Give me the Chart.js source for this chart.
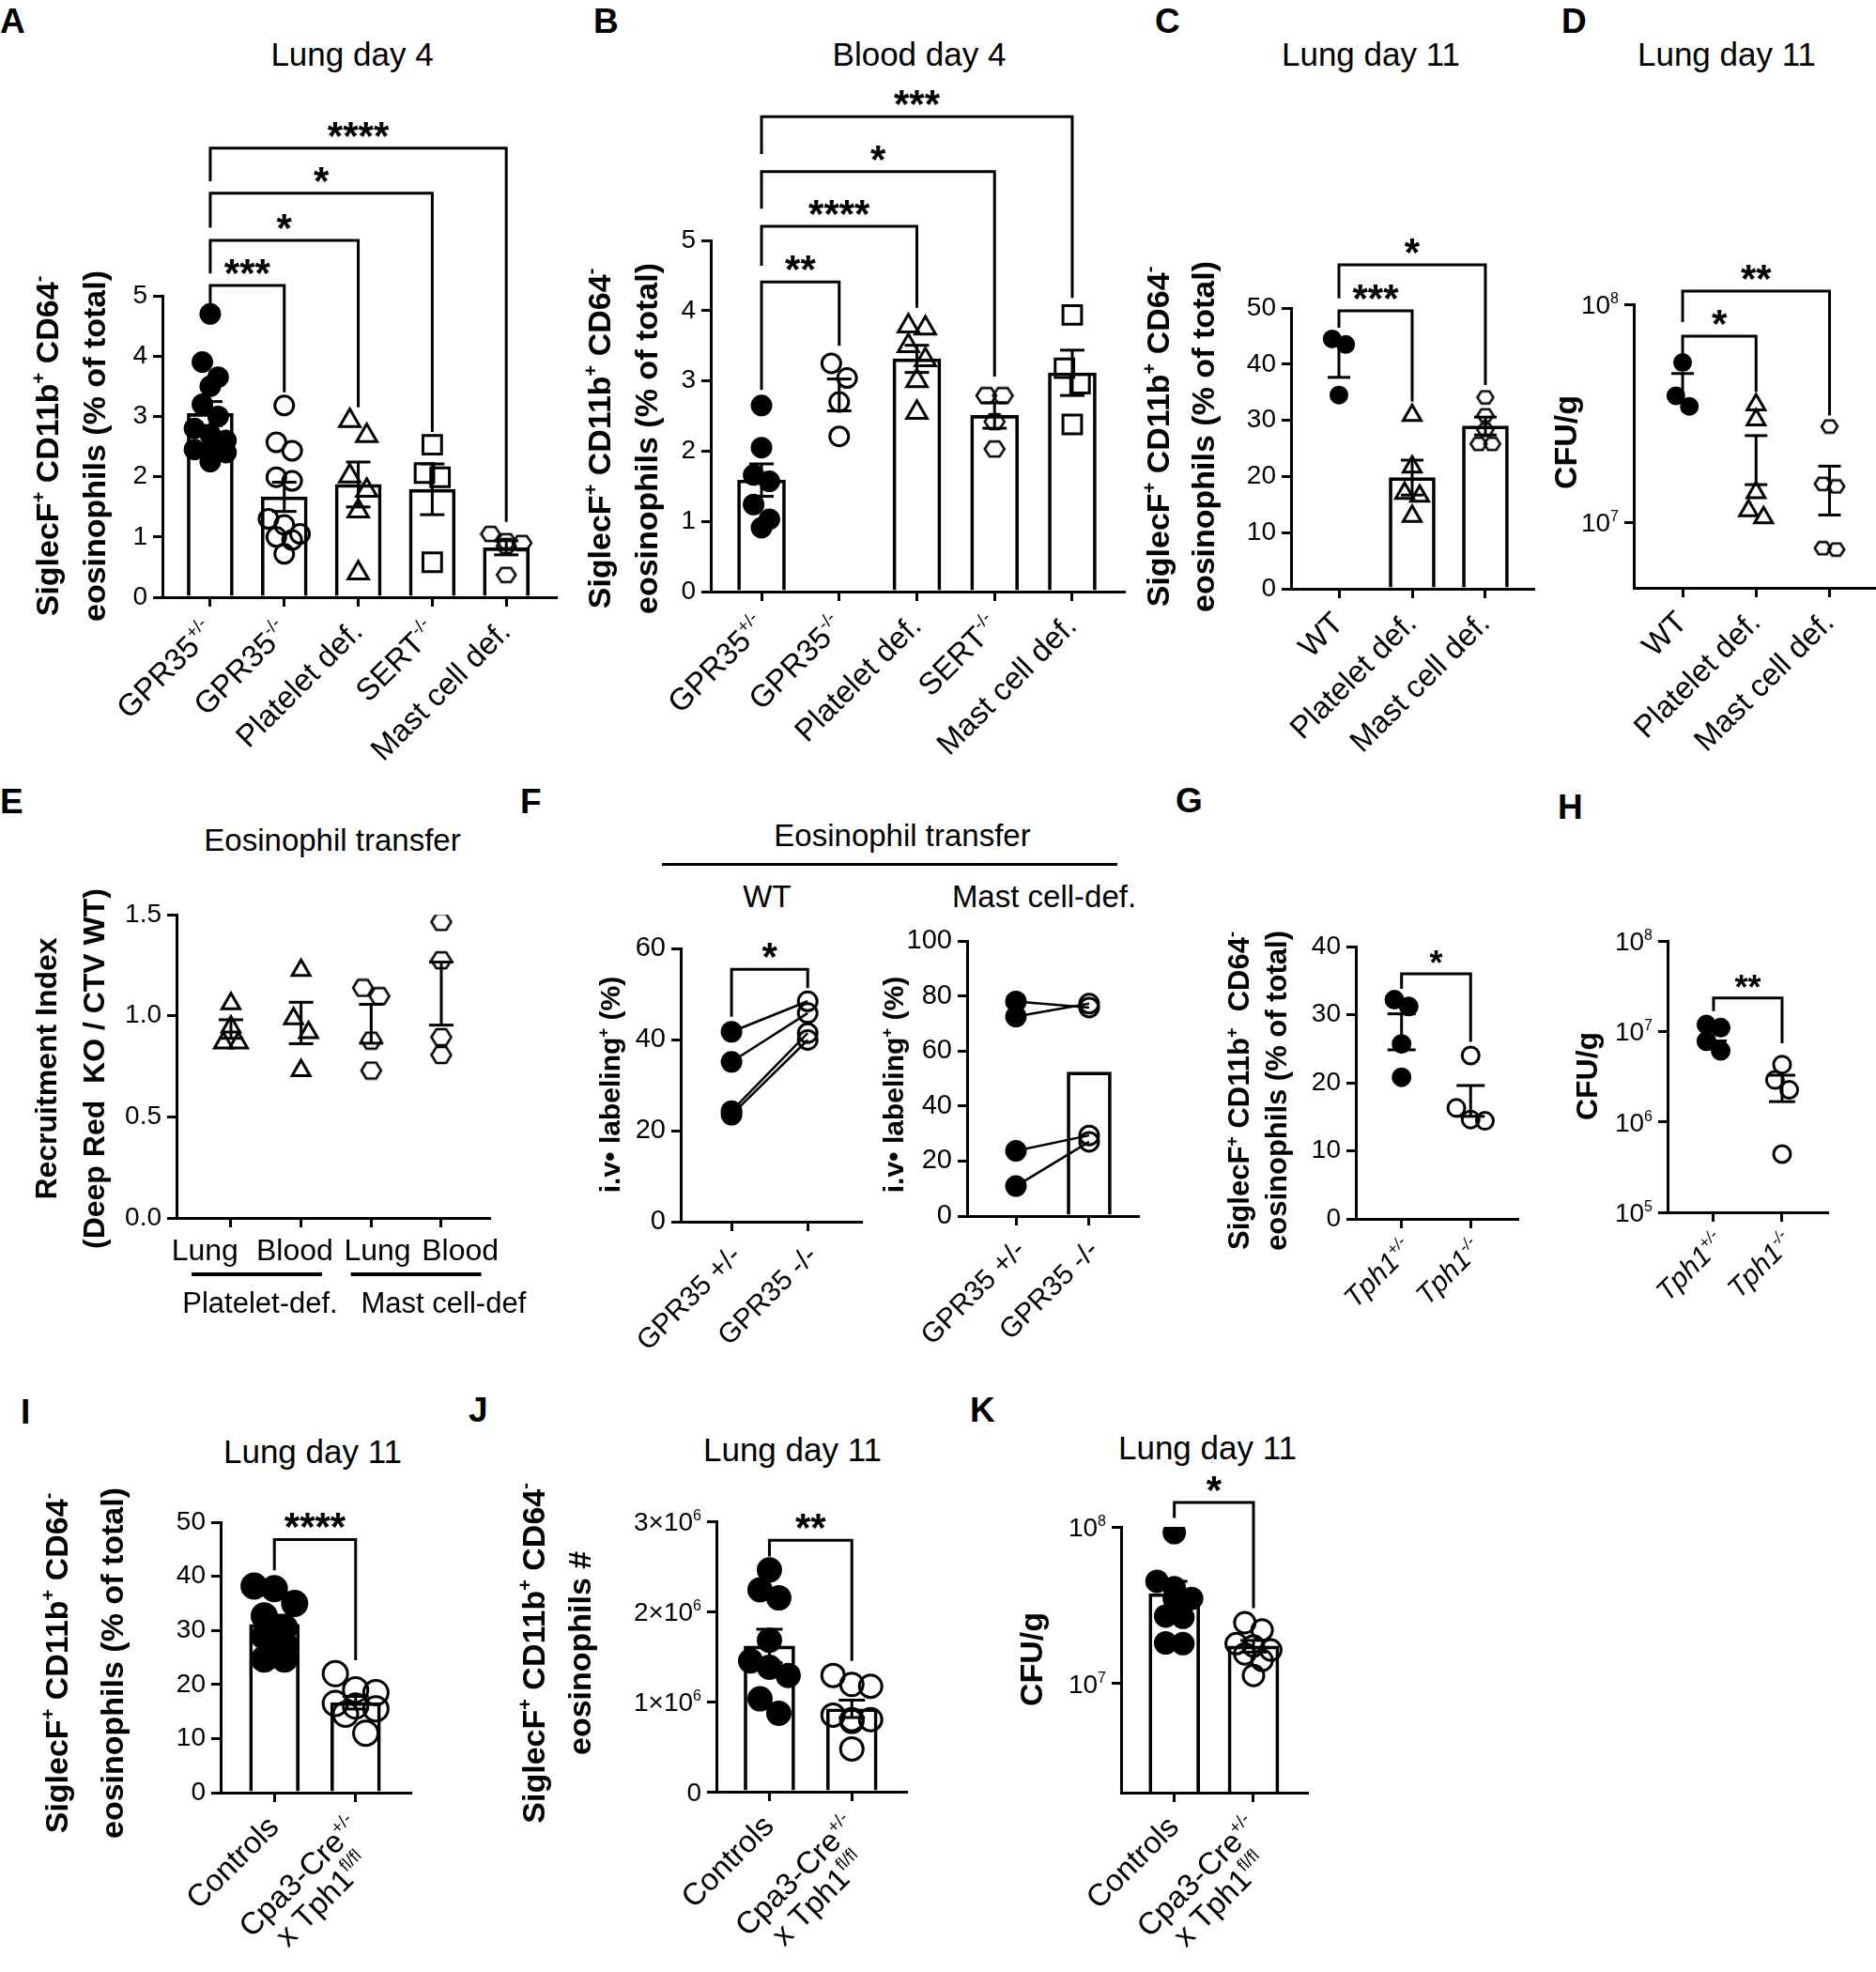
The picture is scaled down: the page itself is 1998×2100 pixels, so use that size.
<!DOCTYPE html>
<html>
<head>
<meta charset="utf-8">
<script src="https://cdn.jsdelivr.net/npm/chart.js@4.4.0/dist/chart.umd.min.js"></script>
<style>
  body { margin: 0; background: #fff; width: 1998px; height: 2100px; position: relative; overflow: hidden; }
  canvas { position: absolute; }
</style>
</head>
<body>
<script>
// ---- data ----
// A  lung day 4, % eosinophils
const aCats = ['GPR35^{+/-}', 'GPR35^{-/-}', 'Platelet def.', 'SERT^{-/-}', 'Mast cell def.'];
const aHet = [4.7, 3.9, 3.65, 3.5, 3.2, 3.0, 2.8, 2.7, 2.6, 2.45, 2.45, 2.4, 2.25];
const aKo = [3.18, 2.57, 2.43, 1.99, 1.93, 1.3, 1.2, 1.05, 1.0, 0.95, 0.72];
const aPlt = [2.93, 2.68, 2.01, 1.77, 1.43, 0.4];
const aSert = [2.53, 2.06, 1.99, 0.58];
const aMast = [1.05, 0.93, 0.9, 0.85, 0.37];
const aSig = [['***', 0, 1], ['*', 0, 2], ['*', 0, 3], ['****', 0, 4]];

// B  blood day 4
const bCats = aCats;
const bHet = [2.65, 2.05, 1.66, 1.57, 1.24, 1.03, 0.91];
const bKo = [3.25, 3.04, 2.7, 2.21];
const bPlt = [3.78, 3.75, 3.5, 3.3, 3.0, 2.55];
const bSert = [2.79, 2.79, 2.42, 2.03];
const bMast = [3.94, 3.18, 2.96, 2.38];
const bSig = [['**', 0, 1], ['****', 0, 2], ['*', 0, 3], ['***', 0, 4]];

// C  lung day 11
const cCats = ['WT', 'Platelet def.', 'Mast cell def.'];
const cWt = [44.5, 43.5, 34.5];
const cPlt = [30.9, 21.7, 17.0, 16.5, 12.9];
const cMast = [34.1, 30.9, 28.3, 25.8, 25.8];
const cSig = [['***', 0, 1], ['*', 0, 2]];

// D  CFU/g lung day 11
const dCats = cCats;
const dWt = [5.4e7, 3.8e7, 3.4e7];
const dPlt = [3.46e7, 2.95e7, 1.37e7, 1.13e7, 1.05e7];
const dMast = [2.75e7, 1.5e7, 1.46e7, 7.6e6, 7.5e6];
const dSig = [['*', 0, 1], ['**', 0, 2]];
const dTicks = [1e7, 1e8];

// E  recruitment index
const eCats = ['Lung', 'Blood', 'Lung', 'Blood'];
const eGroups = ['Platelet-def.', 'Mast cell-def.'];
const ePltLung = [1.06, 0.945, 0.866, 0.866];
const ePltBlood = [1.225, 0.986, 0.917, 0.729];
const eMastLung = [1.138, 1.097, 0.877, 0.729];
const eMastBlood = [1.464, 1.274, 0.894, 0.806];

// F  i.v. labeling, paired
const fCats = ['GPR35 +/-', 'GPR35 -/-'];
const fWtHet = [41.7, 35.1, 24.3, 23.5];
const fWtKo = [48.4, 45.8, 41.4, 39.9];
const fMcHet = [78.0, 72.5, 23.7, 10.9];
const fMcKo = [75.8, 77.2, 29.3, 27.0];
const fSig = [['*', 0, 1]];

// G, H  Tph1
const gCats = ['Tph1^{+/-}', 'Tph1^{-/-}'];
const gHet = [32.2, 31.2, 25.7, 20.8];
const gKo = [24.0, 16.3, 14.6, 14.4];
const gSig = [['*', 0, 1]];
const hHet = [1.19e7, 1.1e7, 7.8e6, 6.1e6];
const hKo = [4.3e6, 2.9e6, 2.26e6, 4.4e5];
const hSig = [['**', 0, 1]];
const hTicks = [1e5, 1e6, 1e7, 1e8];

// I, J, K  Cpa3-Cre x Tph1
const iCats = ['Controls', ['Cpa3-Cre^{+/-}', 'x Tph1^{fl/fl}']];
const iCtrl = [38.2, 37.7, 35.0, 32.7, 30.5, 28.9, 27.4, 24.7, 24.7];
const iCre = [22.0, 19.0, 18.5, 16.5, 16.0, 15.5, 14.5, 11.0];
const iSig = [['****', 0, 1]];
const jCtrl = [2.46e6, 2.24e6, 2.15e6, 1.68e6, 1.45e6, 1.38e6, 1.29e6, 1.03e6, 0.87e6];
const jCre = [1.29e6, 1.19e6, 1.17e6, 0.85e6, 0.8e6, 0.8e6, 0.78e6, 0.475e6];
const jSig = [['**', 0, 1]];
const jTicks = [0, 1e6, 2e6, 3e6];
const kCtrl = [9.2e7, 4.5e7, 4.1e7, 3.5e7, 3.5e7, 2.7e7, 2.65e7, 1.82e7, 1.8e7];
const kCre = [2.45e7, 2.2e7, 1.8e7, 1.74e7, 1.64e7, 1.55e7, 1.41e7, 1.13e7];
const kSig = [['*', 0, 1]];

// ---- helpers ----
const FONT = "'Liberation Sans', Arial, Helvetica, sans-serif";
Chart.defaults.font.family = FONT;
Chart.defaults.color = '#000';
Chart.defaults.animation = false;

const LEFT = 290, RIGHT = 40, TOP = 260, BOTTOM = 240;

const mean = a => a.reduce((s, v) => s + v, 0) / a.length;
const sem = a => {
  const m = mean(a);
  return Math.sqrt(a.reduce((s, v) => s + (v - m) ** 2, 0) / (a.length - 1) / a.length);
};

function hexagon(w, h) {
  const c = document.createElement('canvas');
  c.width = w + 4; c.height = h + 4;
  const g = c.getContext('2d');
  const cx = c.width / 2, cy = c.height / 2, a = w / 2, q = w / 4, b = h / 2;
  g.beginPath();
  g.moveTo(cx - a, cy); g.lineTo(cx - q, cy - b); g.lineTo(cx + q, cy - b);
  g.lineTo(cx + a, cy); g.lineTo(cx + q, cy + b); g.lineTo(cx - q, cy + b);
  g.closePath();
  g.lineWidth = 2.5; g.strokeStyle = '#000'; g.stroke();
  return c;
}

const M = {
  dot: r => ({ s: 'circle', f: true, r }),
  ring: r => ({ s: 'circle', f: false, r }),
  tri: r => ({ s: 'triangle', f: false, r }),
  sq: r => ({ s: 'rect', f: false, r }),
  hex: (w, h) => ({ s: 'hex', w, h })
};

function markProps(m) {
  if (m.s === 'hex') {
    return { pointStyle: hexagon(m.w, m.h), pointRadius: m.w / 2, borderColor: '#000', backgroundColor: 'rgba(0,0,0,0)' };
  }
  return {
    pointStyle: m.s, pointRadius: m.r, borderWidth: 3, pointBorderWidth: 3,
    borderColor: '#000', backgroundColor: m.f ? '#000' : 'rgba(0,0,0,0)'
  };
}
const markDiam = m => m.s === 'hex' ? m.w : m.s === 'triangle' ? m.r * 1.73 : m.s === 'rect' ? m.r * 1.41 : 2 * m.r;

// Prism-like scatter: points that sit close in y share a row (max 3) and are spread side by side
function swarm(vals, py, pxPerX, d) {
  const offs = [], rows = [];
  const order = vals.map((v, i) => i).sort((a, b) => vals[b] - vals[a]);
  let cur = null;
  for (const i of order) {
    const y = py(vals[i]);
    if (!cur || cur.y0 - y > d * 0.8 || cur.items.length >= 3) { cur = { y0: y, items: [] }; rows.push(cur); }
    cur.items.push(i);
  }
  for (const row of rows) {
    const n = row.items.length;
    row.items.forEach((i, k) => { offs[i] = (k - (n - 1) / 2) * d * 0.8 / pxPerX; });
  }
  return offs;
}

function parseRich(s) {
  const out = [], re = /\^\{([^}]*)\}/g;
  let last = 0, m;
  while ((m = re.exec(s))) {
    if (m.index > last) out.push({ t: s.slice(last, m.index) });
    out.push({ t: m[1], sup: true });
    last = re.lastIndex;
  }
  if (last < s.length) out.push({ t: s.slice(last) });
  return out;
}
const fontStr = (o, sup) => `${o.italic ? 'italic ' : ''}${o.bold ? 'bold ' : ''}${sup ? Math.round(o.size * 0.58) : o.size}px ${FONT}`;
function richWidth(ctx, s, o) {
  let w = 0;
  for (const g of parseRich(s)) { ctx.font = fontStr(o, g.sup); w += ctx.measureText(g.t).width; }
  return w;
}
function drawRich(ctx, s, x, y, o) {
  const segs = parseRich(s);
  let w = 0;
  for (const g of segs) { ctx.font = fontStr(o, g.sup); g.w = ctx.measureText(g.t).width; w += g.w; }
  let cx = o.align === 'center' ? x - w / 2 : o.align === 'right' ? x - w : x;
  ctx.textAlign = 'left';
  ctx.textBaseline = 'alphabetic';
  for (const g of segs) {
    ctx.font = fontStr(o, g.sup);
    ctx.fillText(g.t, cx, g.sup ? y - o.size * 0.4 : y);
    cx += g.w;
  }
}

function seg(ctx, pts) {
  ctx.beginPath();
  ctx.moveTo(pts[0][0], pts[0][1]);
  for (let i = 1; i < pts.length; i++) ctx.lineTo(pts[i][0], pts[i][1]);
  ctx.stroke();
}

// draws error bars, brackets, custom labels and axis titles
const deco = {
  id: 'deco',
  afterDraw(chart, args, o) {
    const ctx = chart.ctx, xs = chart.scales.x, ys = chart.scales.y, A = chart.chartArea;
    const X = v => xs.getPixelForValue(v), Y = v => ys.getPixelForValue(v);
    ctx.save();
    ctx.strokeStyle = '#000'; ctx.fillStyle = '#000'; ctx.lineWidth = 3; ctx.lineCap = 'butt'; ctx.lineJoin = 'miter';

    // mean +/- SEM
    if (o.err !== false) {
      o.groups.forEach((g, i) => {
        const m = mean(g.v), s = sem(g.v), h = (o.capW || 26) / 2, x = X(i);
        const lo = m - s > 0 ? Y(m - s) : A.bottom, hi = Y(m + s);
        seg(ctx, [[x, lo], [x, hi]]);
        seg(ctx, [[x - h, hi], [x + h, hi]]);
        seg(ctx, [[x - h, lo], [x + h, lo]]);
      });
    }

    // significance brackets
    (o.sig || []).forEach(([t, i, j], k) => {
      const [yb, yl, yr] = o.brk[k];
      const y = Y(yb);
      seg(ctx, [[X(i), Y(yl)], [X(i), y], [X(j), y], [X(j), Y(yr)]]);
      ctx.font = `bold ${o.starSize || 42}px ${FONT}`;
      ctx.textAlign = 'center'; ctx.textBaseline = 'alphabetic';
      ctx.fillText(t, (X(i) + X(j)) / 2, y + 1);
    });

    // rich y tick labels (powers of ten)
    if (o.yRich) {
      ys.ticks.forEach(tk => {
        drawRich(ctx, o.yRich(tk.value), A.left - 16, Y(tk.value) + 0.36 * o.tickSize, { size: o.tickSize, align: 'right' });
      });
    }

    // category labels
    const L = o.xl;
    o.cats.forEach((c, i) => {
      const lines = Array.isArray(c) ? c : [c];
      const x = X(L.pos ? L.pos[i] : i);
      if (!L.rot) {
        lines.forEach((s, k) => drawRich(ctx, s, x, A.bottom + L.dy + k * L.size * 1.1, { ...L, align: 'center' }));
        return;
      }
      ctx.save();
      ctx.translate(x + L.dx, A.bottom + L.dy);
      ctx.rotate(-L.rot * Math.PI / 180);
      const mw = Math.max(...lines.map(s => richWidth(ctx, s, L)));
      lines.forEach((s, k) => {
        const yy = 0.36 * L.size + k * L.size * 1.05;
        if (lines.length > 1) drawRich(ctx, s, -mw / 2, yy, { ...L, align: 'center' });
        else drawRich(ctx, s, 0, yy, { ...L, align: 'right' });
      });
      ctx.restore();
    });

    // grouping lines under category labels
    (o.under || []).forEach(u => {
      ctx.lineWidth = 4;
      seg(ctx, [[X(u.from), u.ly - o.oy], [X(u.to), u.ly - o.oy]]);
      drawRich(ctx, u.label, X(u.tx), u.ty - o.oy, { size: u.size, align: 'center' });
    });

    // y axis title
    const T = o.yt;
    T.lines.forEach((s, k) => {
      ctx.save();
      ctx.translate(A.left + T.x[k], T.cy - o.oy);
      ctx.rotate(-Math.PI / 2);
      drawRich(ctx, s, 0, 0, { size: T.size, bold: true, align: 'center' });
      ctx.restore();
    });
    ctx.restore();
  }
};

function panel(p) {
  const [l, t, r, b] = p.box;
  const W = r - l, H = b - t;
  const cv = document.createElement('canvas');
  const cw = Math.round(LEFT + W + RIGHT), ch = Math.round(TOP + H + BOTTOM);
  cv.width = cw; cv.height = ch;
  cv.style.left = (l - LEFT) + 'px';
  cv.style.top = (t - TOP) + 'px';
  cv.style.width = cw + 'px'; cv.style.height = ch + 'px';
  document.body.appendChild(cv);

  const log = p.y.type === 'logarithmic';
  const py = v => log
    ? (Math.log10(v) - Math.log10(p.y.min)) / (Math.log10(p.y.max) - Math.log10(p.y.min)) * H
    : (v - p.y.min) / (p.y.max - p.y.min) * H;
  const pxPerX = W / (p.x[1] - p.x[0]);

  const datasets = [];
  const bars = p.groups.map((g, i) => g.bar ? { x: i, y: mean(g.v) } : null).filter(Boolean);
  if (bars.length) {
    datasets.push({
      type: 'bar', data: bars, barThickness: p.barW, grouped: false,
      borderColor: '#000', borderWidth: 3, backgroundColor: 'rgba(0,0,0,0)', order: 3
    });
  }
  if (p.paired) {
    p.groups[0].v.forEach((v, k) => {
      datasets.push({
        type: 'line', data: [{ x: 0, y: v }, { x: 1, y: p.groups[1].v[k] }],
        borderColor: '#000', borderWidth: 2.5, pointRadius: 0, order: 2
      });
    });
  }
  p.groups.forEach((g, i) => {
    const off = p.paired ? g.v.map(() => 0) : swarm(g.v, py, pxPerX, markDiam(g.m) + 1);
    datasets.push({
      type: 'scatter', data: g.v.map((v, k) => ({ x: i + off[k], y: v })),
      ...markProps(g.m), order: 1
    });
  });

  const tickSize = p.tickSize || 28;
  new Chart(cv, {
    type: 'scatter',
    data: { datasets },
    options: {
      responsive: false, devicePixelRatio: 1, animation: false,
      layout: { padding: { top: TOP, right: RIGHT, left: 0, bottom: 0 } },
      plugins: {
        legend: { display: false }, tooltip: { enabled: false },
        deco: {
          groups: p.groups, err: p.err, capW: p.capW, sig: p.sig, brk: p.brk, starSize: p.starSize,
          yRich: p.y.rich, tickSize, cats: p.cats, xl: p.xl, under: p.under, yt: p.yt, oy: t - TOP
        }
      },
      scales: {
        x: {
          type: 'linear', min: p.x[0], max: p.x[1], offset: false,
          afterFit: s => { s.height = BOTTOM; },
          afterBuildTicks: s => { s.ticks = p.cats.map((c, i) => ({ value: i })); },
          ticks: { display: false },
          grid: { offset: false, drawOnChartArea: false, tickLength: 10, lineWidth: 3, color: '#000' },
          border: { width: 3, color: '#000' }
        },
        y: {
          type: log ? 'logarithmic' : 'linear', min: p.y.min, max: p.y.max, offset: false,
          afterFit: s => { s.width = LEFT; },
          afterBuildTicks: s => { s.ticks = p.y.ticks.map(v => ({ value: v })); },
          ticks: {
            display: !p.y.rich, font: { size: tickSize }, color: '#000', padding: 6,
            callback: p.y.fmt || (v => String(v))
          },
          grid: { offset: false, drawOnChartArea: false, tickLength: 10, lineWidth: 3, color: '#000' },
          border: { width: 3, color: '#000' }
        }
      }
    },
    plugins: [deco]
  });
}

function txt(s, x, base, size, o = {}) {
  const e = document.createElement('div');
  e.textContent = s;
  e.style.cssText = `position:absolute;white-space:nowrap;font:${o.bold ? 'bold ' : ''}${size}px ${FONT};line-height:1;color:#000;` +
    `left:${x}px;top:${(base - 0.8465 * size).toFixed(1)}px;` + (o.left ? '' : 'transform:translateX(-50%);');
  document.body.appendChild(e);
}

// ---- panel letters and titles ----
[['A', 0, 35], ['B', 632, 35], ['C', 1230, 35], ['D', 1663, 35], ['E', 0, 866], ['F', 554, 866],
 ['G', 1252, 865], ['H', 1659, 872], ['I', 22, 1516], ['J', 499, 1514], ['K', 1033, 1514]]
  .forEach(([s, x, y]) => txt(s, x, y, 37, { bold: true, left: true }));
txt('Lung day 4', 375, 70, 35);
txt('Blood day 4', 979, 70, 35);
txt('Lung day 11', 1460, 70, 35);
txt('Lung day 11', 1839, 70, 35);
txt('Eosinophil transfer', 354, 906, 33);
txt('Eosinophil transfer', 961, 901, 33);
txt('WT', 817, 966, 33);
txt('Mast cell-def.', 1112, 966, 33);
txt('Lung day 11', 333, 1558, 35);
txt('Lung day 11', 844, 1556, 35);
txt('Lung day 11', 1286, 1554, 35);
const rule = document.createElement('div');
rule.style.cssText = 'position:absolute;left:705px;top:919px;width:485px;height:3px;background:#000';
document.body.appendChild(rule);

const eosTitle = ['SiglecF^{+} CD11b^{+} CD64^{-}', 'eosinophils (% of total)'];
const xl33 = { size: 33, rot: 45, dx: -2, dy: 30 };
const pow10 = v => '10^{' + Math.round(Math.log10(v)) + '}';

// ---- panels ----
panel({ // A
  box: [173, 315, 592, 636], x: [-0.646, 4.67], y: { min: 0, max: 5, ticks: [0, 1, 2, 3, 4, 5] },
  cats: aCats, xl: xl33, barW: 49, capW: 26,
  groups: [{ v: aHet, m: M.dot(10), bar: 1 }, { v: aKo, m: M.ring(10), bar: 1 }, { v: aPlt, m: M.tri(12.5), bar: 1 },
           { v: aSert, m: M.sq(14), bar: 1 }, { v: aMast, m: M.hex(20, 15), bar: 1 }],
  sig: aSig, brk: [[5.17, 4.86, 3.40], [5.92, 5.37, 3.15], [6.70, 6.13, 2.74], [7.45, 6.9, 1.25]],
  yt: { lines: eosTitle, x: [-111, -61], cy: 475, size: 34 }
});
panel({ // B
  box: [757, 256, 1197, 630], x: [-0.653, 4.665], y: { min: 0, max: 5, ticks: [0, 1, 2, 3, 4, 5] },
  cats: bCats, xl: xl33, barW: 51, capW: 26,
  groups: [{ v: bHet, m: M.dot(10), bar: 1 }, { v: bKo, m: M.ring(10) }, { v: bPlt, m: M.tri(12.5), bar: 1 },
           { v: bSert, m: M.hex(21, 16), bar: 1 }, { v: bMast, m: M.sq(14), bar: 1 }],
  sig: bSig, brk: [[4.41, 2.87, 3.50], [5.20, 4.64, 4.04], [5.98, 5.45, 3.06], [6.76, 6.23, 4.18]],
  yt: { lines: eosTitle, x: [-107, -57], cy: 467, size: 34 }
});
panel({ // C
  box: [1375, 328, 1633, 627], x: [-0.654, 2.654], y: { min: 0, max: 50, ticks: [0, 10, 20, 30, 40, 50] },
  cats: cCats, xl: xl33, barW: 49, capW: 24,
  groups: [{ v: cWt, m: M.dot(8.5) }, { v: cPlt, m: M.tri(11), bar: 1 }, { v: cMast, m: M.hex(17, 13), bar: 1 }],
  sig: cSig, brk: [[49.5, 46.5, 33.3], [57.7, 51.7, 36.3]],
  yt: { lines: eosTitle, x: [-130, -82], cy: 465, size: 34 }
});
panel({ // D
  box: [1740, 324, 1996, 626], x: [-0.665, 2.607],
  y: { type: 'logarithmic', min: 5e6, max: 1e8, ticks: dTicks, rich: pow10 },
  cats: dCats, xl: xl33, capW: 24,
  groups: [{ v: dWt, m: M.dot(8.5) }, { v: dPlt, m: M.tri(11) }, { v: dMast, m: M.hex(17, 13) }],
  sig: dSig, brk: [[7.13e7, 5.92e7, 3.97e7], [1.148e8, 8.28e7, 3.09e7]],
  yt: { lines: ['CFU/g'], x: [-61], cy: 471, size: 34 }
});
panel({ // E
  box: [188, 974, 521, 1297], x: [-0.776, 3.683],
  y: { min: 0, max: 1.5, ticks: [0, 0.5, 1, 1.5], fmt: v => v.toFixed(1) },
  cats: eCats, xl: { size: 32, rot: 0, dy: 45, pos: [-0.37, 0.91, 2.09, 3.27] }, capW: 26,
  groups: [{ v: ePltLung, m: M.tri(11) }, { v: ePltBlood, m: M.tri(11) },
           { v: eMastLung, m: M.hex(21, 17) }, { v: eMastBlood, m: M.hex(21, 17) }],
  under: [{ from: -0.56, to: 1.3, ly: 1357, label: eGroups[0], tx: 0.415, ty: 1398, size: 31 },
          { from: 1.71, to: 3.57, ly: 1357, label: eGroups[1], tx: 3.09, ty: 1398, size: 31 }],
  yt: { lines: ['Recruitment Index', '(Deep Red  KO / CTV WT)'], x: [-128, -77], cy: 1138, size: 32 }
});
const ivTitle = { lines: ['i.v\u2022 labeling^{+} (%)'], cy: 1155, size: 30 };
panel({ // F, WT recipients
  box: [725, 1010, 917, 1301], x: [-0.667, 1.70], tickSize: 29,
  y: { min: 0, max: 60, ticks: [0, 20, 40, 60] },
  cats: fCats, xl: { size: 30, rot: 45, dx: 4, dy: 30 }, paired: true, err: false,
  groups: [{ v: fWtHet, m: M.dot(10) }, { v: fWtKo, m: M.ring(10) }],
  sig: fSig, brk: [[55.4, 45.0, 51.3]],
  yt: { ...ivTitle, x: [-65] }
});
panel({ // F, mast cell-deficient recipients
  box: [1030, 1002, 1212, 1295], x: [-0.667, 1.667], tickSize: 29,
  y: { min: 0, max: 100, ticks: [0, 20, 40, 60, 80, 100] },
  cats: fCats, xl: { size: 30, rot: 45, dx: 4, dy: 30 }, paired: true, err: false, barW: 47,
  groups: [{ v: fMcHet, m: M.dot(10) }, { v: fMcKo, m: M.ring(10), bar: 1 }],
  yt: { ...ivTitle, x: [-68] }
});
const xlTph = { size: 30, rot: 45, dx: 6, dy: 26, italic: true };
panel({ // G
  box: [1444, 1007.5, 1616, 1297], x: [-0.662, 1.676],
  y: { min: 0, max: 40, ticks: [0, 10, 20, 30, 40] },
  cats: gCats, xl: xlTph, capW: 30, starSize: 36,
  groups: [{ v: gHet, m: M.dot(9) }, { v: gKo, m: M.ring(9) }],
  sig: gSig, brk: [[36.0, 33.8, 26.0]],
  yt: { lines: ['SiglecF^{+} CD11b^{+}  CD64^{-}', 'eosinophils (% of total)'], x: [-114, -74], cy: 1161, size: 31 }
});
panel({ // H
  box: [1776, 1002, 1946, 1291], x: [-0.671, 1.658],
  y: { type: 'logarithmic', min: 1e5, max: 1e8, ticks: hTicks, rich: pow10 },
  cats: gCats, xl: xlTph, capW: 28, starSize: 36,
  groups: [{ v: hHet, m: M.dot(9) }, { v: hKo, m: M.ring(9) }],
  sig: hSig, brk: [[2.34e7, 1.68e7, 7.4e6]],
  yt: { lines: ['CFU/g'], x: [-75], cy: 1146, size: 32 }
});
panel({ // I
  box: [235, 1621, 437, 1909], x: [-0.661, 1.673], y: { min: 0, max: 50, ticks: [0, 10, 20, 30, 40, 50] },
  cats: iCats, xl: xl33, barW: 53, capW: 28,
  groups: [{ v: iCtrl, m: M.dot(13), bar: 1 }, { v: iCre, m: M.ring(13), bar: 1 }],
  sig: iSig, brk: [[46.8, 41.1, 24.5]],
  yt: { lines: eosTitle, x: [-163, -104], cy: 1771, size: 34 }
});
panel({ // J
  box: [762.5, 1619.6, 964.6, 1907.6], x: [-0.643, 1.658],
  y: { min: 0, max: 3e6, ticks: jTicks, rich: v => v === 0 ? '0' : (v / 1e6) + '\u00d710^{6}' },
  cats: iCats, xl: xl33, barW: 54, capW: 28,
  groups: [{ v: jCtrl, m: M.dot(12), bar: 1 }, { v: jCre, m: M.ring(12), bar: 1 }],
  sig: jSig, brk: [[2.79e6, 2.61e6, 1.45e6]],
  yt: { lines: ['SiglecF^{+} CD11b^{+} CD64^{-}', 'eosinophils #'], x: [-183.5, -134.5], cy: 1760, size: 34 }
});
panel({ // K
  box: [1194, 1626, 1392, 1909], x: [-0.672, 1.676],
  y: { type: 'logarithmic', min: 2.02e6, max: 1e8, ticks: dTicks, rich: pow10 },
  cats: iCats, xl: xl33, barW: 54, capW: 28,
  groups: [{ v: kCtrl, m: M.dot(11), bar: 1 }, { v: kCre, m: M.ring(11), bar: 1 }],
  sig: kSig, brk: [[1.43e8, 1.14e8, 3.03e7]],
  yt: { lines: ['CFU/g'], x: [-84], cy: 1767, size: 34 }
});
</script>
</body>
</html>
